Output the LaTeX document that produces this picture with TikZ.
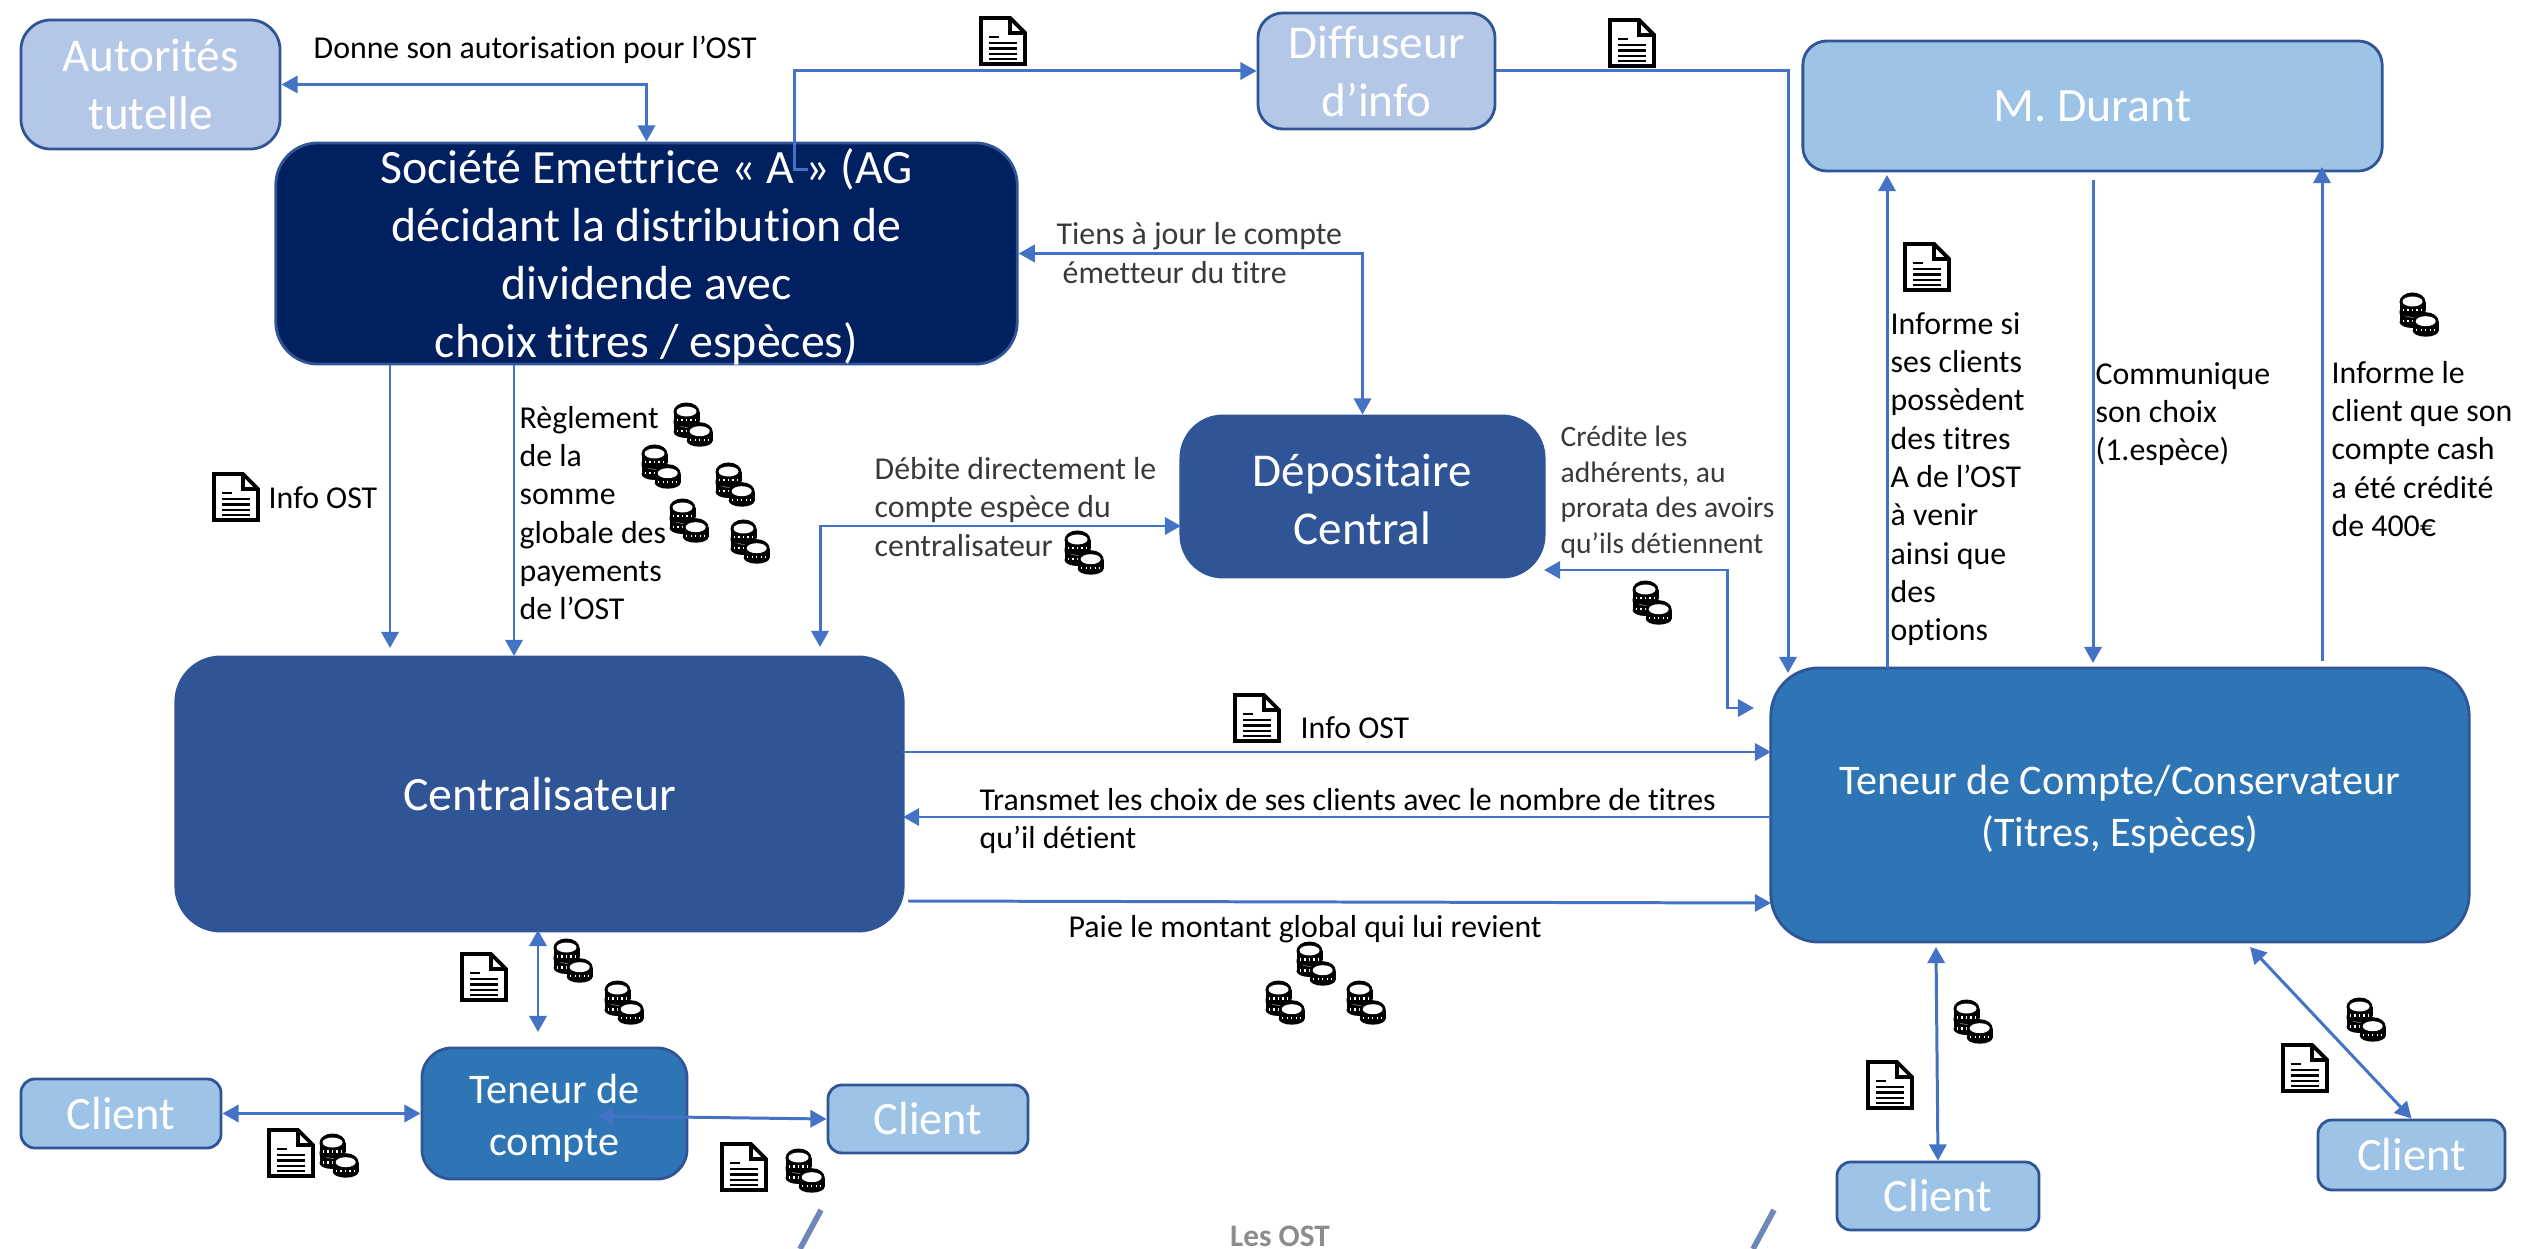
\documentclass[tikz,border=0pt]{standalone}
\usepackage{fontspec}
\setmainfont{Carlito}[Ligatures=NoCommon]
\usetikzlibrary{
  arrows.meta,
  calc,
  positioning,
}
\definecolor{bluelink}{RGB}{68, 114, 196}
\definecolor{blueedge}{RGB}{47, 85, 151}
\definecolor{bluepale}{RGB}{180, 199, 231}
\definecolor{bluesky}{RGB}{157, 195, 230}
\definecolor{bluemid}{RGB}{46, 117, 182}
\definecolor{bluenight}{RGB}{0, 32, 96}
\definecolor{textgrey}{RGB}{59, 56, 56}
\tikzstyle{box} = [
  draw=blueedge,
  rectangle,
  line width=0.8pt,
  text=white,
  align=center,
  inner sep=0pt,
]
\tikzstyle{link} = [
  line width=0.85pt,
  bluelink,
  -{Triangle[length=4.6pt,width=4.9pt]},
]
\tikzstyle{twolink} = [
  link,
  {Triangle[length=4.6pt,width=4.9pt]}-{Triangle[length=4.6pt,width=4.9pt]},
]
\tikzstyle{lbl} = [
  anchor=west,
  align=left,
  inner sep=0pt,
  text=black,
  font=\fontsize{9.05}{10.9}\selectfont,
]
\tikzset{
  docicon/.pic={
    \filldraw[fill=white,draw=black,line width=1.1pt] (-22,-23) -- (7,-23) -- (22,-8) -- (22,23) -- (-22,23) -- cycle;
    \draw[black,line width=0.9pt] (7,-23) -- (7,-8) -- (22,-8);
    \draw[black,line width=0.7pt] (-14,-4) -- (-4,-4);
    \foreach \ly in {2,7.5,13,18} {
      \draw[black,line width=0.7pt] (-14,\ly) -- (14,\ly);
    }
  },
  coinstack/.pic={
    \fill[black] (-13,0) rectangle (13,9);
    \fill[black] (0,0) ellipse (13 and 9.5);
    \fill[black] (0,9) ellipse (13 and 6);
    \fill[white] (0,-0.5) ellipse (10 and 5);
    \foreach \lx in {-9,-4.5,0,4.5,9} {
      \draw[white,line width=0.4pt] (\lx,7) -- (\lx,9.5);
    }
  },
  coinicon/.pic={
    \pic at (-6.5,-1) {coinstack};
    \pic at (-6.5,-12) {coinstack};
    \pic at (6.7,7.7) {coinstack};
  },
}

\begin{document}
\begin{tikzpicture}[x=0.01cm,y=-0.01cm]
        \useasboundingbox (0,0) rectangle (2529,1249);

        \node[box,minimum width=2.59cm,minimum height=1.29cm,rounded corners=0.3cm,fill=bluepale,font=\fontsize{13.4}{16.5}\selectfont] (autorites) at (150.5,84.5) {Autorités\\tutelle};
        \node[box,minimum width=7.41cm,minimum height=2.21cm,rounded corners=0.42cm,fill=bluenight] (societe) at (646.5,253.5) {};
        \node[box,draw=none,font=\fontsize{13.6}{16.5}\selectfont] (societetext) at (646.5,257) {Société Emettrice « A » (AG\\décidant la distribution de\\dividende avec\\choix titres / espèces)};
        \node[box,minimum width=2.37cm,minimum height=1.16cm,rounded corners=0.25cm,fill=bluepale,font=\fontsize{13.4}{16.5}\selectfont] (diffuseur) at (1376.5,71) {Diffuseur\\d’info};
        \node[box,minimum width=5.79cm,minimum height=1.3cm,rounded corners=0.24cm,fill=bluesky,font=\fontsize{13.6}{16.5}\selectfont] (durant) at (2092.5,106) {M. Durant};
        \node[box,minimum width=3.63cm,minimum height=1.61cm,rounded corners=0.42cm,fill=blueedge] (depositaire) at (1362.5,496.5) {};
        \node[box,draw=none,font=\fontsize{13.4}{16.5}\selectfont] (depositairetext) at (1362.5,499) {Dépositaire\\Central};
        \node[box,minimum width=7.27cm,minimum height=2.74cm,rounded corners=0.45cm,fill=blueedge,font=\fontsize{13.6}{17}\selectfont] (central) at (539.5,794) {Centralisateur};
        \node[box,minimum width=6.98cm,minimum height=2.74cm,rounded corners=0.48cm,fill=bluemid] (teneur) at (2120,805) {};
        \node[box,draw=none,font=\fontsize{12}{14.8}\selectfont] (teneurtext) at (2120,809) {Teneur de Compte/Conservateur\\(Titres, Espèces)};
        \node[box,minimum width=2.65cm,minimum height=1.31cm,rounded corners=0.3cm,fill=bluemid] (teneurcli) at (554.5,1113.5) {};
        \node[box,draw=none,font=\fontsize{12}{14.8}\selectfont] (teneurclitext) at (554.5,1118) {Teneur de\\compte};
        \node[box,minimum width=2cm,minimum height=0.69cm,rounded corners=0.14cm,fill=bluesky,font=\fontsize{13.2}{16}\selectfont] (clienta) at (121,1113.5) {Client};
        \node[box,minimum width=2cm,minimum height=0.68cm,rounded corners=0.14cm,fill=bluesky,font=\fontsize{13.2}{16}\selectfont] (clientb) at (928,1119) {Client};
        \node[box,minimum width=2.02cm,minimum height=0.68cm,rounded corners=0.14cm,fill=bluesky,font=\fontsize{13.2}{16}\selectfont] (clientc) at (1938,1196) {Client};
        \node[box,minimum width=1.87cm,minimum height=0.7cm,rounded corners=0.14cm,fill=bluesky,font=\fontsize{13.2}{16}\selectfont] (clientd) at (2411.5,1155) {Client};

        \coordinate (stub) at (808,170);
        \coordinate (teneurtop) at (1788,673);
        \coordinate (infoend) at (390,648);
        \coordinate (regleend) at (514,656);
        \coordinate (depoleft) at (1181,526);
        \coordinate (centtop) at (820,647);
        \coordinate (deporight) at (1544,570);
        \coordinate (teneurleft) at (1754,708);
        \coordinate (infostart) at (903,752);
        \coordinate (infotip) at (1771,752);
        \coordinate (choixstart) at (1771,817);
        \coordinate (choixtip) at (903,817);
        \coordinate (paiestart) at (908,901);
        \coordinate (paietip) at (1771,903);
        \coordinate (centbot) at (538,930);
        \coordinate (tenbot) at (538,1032);
        \coordinate (innertip) at (597,1116);
        \coordinate (infoup) at (1887,668);
        \coordinate (infoupend) at (1887,175);
        \coordinate (choixtop) at (2093,180);
        \coordinate (choixend) at (2093,663);
        \coordinate (cashstart) at (2322,661);
        \coordinate (cashend) at (2322,167);
        \coordinate (clientctop) at (1936,947);
        \coordinate (clientdtop) at (2250,947);

        \draw[twolink] (autorites.east) -| (societe.north);
        \draw[link] (stub) -- ++(-14,0) |- (diffuseur.west);
        \draw[link] (diffuseur.east) -| (teneurtop);
        \draw[twolink] (societe.east) -| (depositaire.north);
        \draw[link] (societe.south -| infoend) -- (infoend);
        \draw[link] (societe.south -| regleend) -- (regleend);
        \draw[twolink] (depoleft) -| (centtop);
        \draw[twolink] (deporight) -- ++(183,0) |- (teneurleft);
        \draw[link] (infostart) -- (infotip);
        \draw[link] (choixstart) -- (choixtip);
        \draw[link] (paiestart) -- (paietip);
        \draw[twolink] (centbot) -- (tenbot);
        \draw[twolink] (clienta.east) -- (teneurcli.west);
        \draw[twolink] (innertip) -- (clientb.west);
        \draw[link] (infoup) -- (infoupend);
        \draw[link] (choixtop) -- (choixend);
        \draw[link] (cashstart) -- (cashend);
        \draw[twolink] (clientctop) -- (clientc.north);
        \draw[twolink] (clientdtop) -- (clientd.north);

        \node[lbl] (donne) at (313,50) {Donne son autorisation pour l’OST};
        \node[lbl] (infoa) at (268,498) {Info OST};
        \node[lbl] (regle) at (519,513) {Règlement\\de la\\somme\\globale des\\payements\\de l’OST};
        \node[lbl,text=textgrey] (debite) at (874,507) {Débite directement le\\compte espèce du\\centralisateur};
        \node[lbl,text=textgrey] (tiens) at (1056,253) {Tiens à jour le compte\\\hspace*{1.7pt}émetteur du titre};
        \node[lbl,text=textgrey,font=\fontsize{8.4}{10.1}\selectfont] (credite) at (1560,492) {Crédite les\\adhérents, au\\prorata des avoirs\\qu'ils détiennent};
        \node[lbl] (informe) at (1890,479) {Informe si\\ses clients\\possèdent\\des titres\\A de l’OST\\à venir\\ainsi que\\des\\options};
        \node[lbl] (commun) at (2095,414) {Communique\\son choix\\(1.espèce)};
        \node[lbl] (informel) at (2331,449) {Informe le\\client que son\\compte cash\\a été crédité\\de 400€};
        \node[lbl] (infob) at (1300,728) {Info OST};
        \node[lbl] (transmet) at (979,821) {Transmet les choix de ses clients avec le nombre de titres\\qu’il détient};
        \node[lbl] (paie) at (1068,929) {Paie le montant global qui lui revient};
        \node[lbl,anchor=center,text=black!45,font=\fontsize{8.9}{10.9}\selectfont\bfseries] (lesost) at (1280,1236) {Les OST};

        \foreach \px/\py in {1003/41,1632/43,236/497,1257/718,1927/267,484/977,291/1153,744/1167,1890/1085,2305/1068} {
            \pic at (\px,\py) {docicon};
        }
        \foreach \px/\py in {693/424,661/466,735/484,689/520,750/541,1084/552,1652/602,2419/314,573/960,624/1002,1316/963,1285/1002,1366/1002,339/1155,805/1170,1973/1021,2366/1019} {
            \pic at (\px,\py) {coinicon};
        }

        \coordinate (slashalow) at (800,1249);
        \coordinate (slashahigh) at (821,1210);
        \coordinate (slashblow) at (1753,1249);
        \coordinate (slashbhigh) at (1774,1210);
        \draw[blueedge!70,line width=1.6pt] (slashalow) -- (slashahigh);
        \draw[blueedge!70,line width=1.6pt] (slashblow) -- (slashbhigh);
    \end{tikzpicture}
\end{document}
